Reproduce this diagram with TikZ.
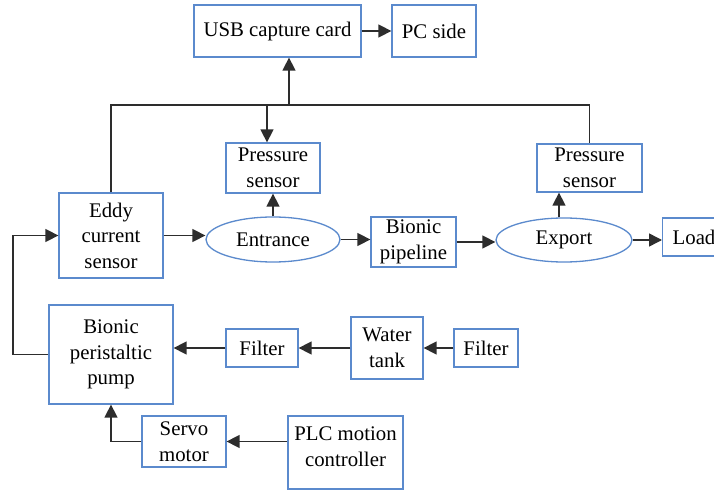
\documentclass[tikz,border=0pt]{standalone}
\usepackage{fontspec}
\setmainfont{Liberation Serif}
\newfontfamily\diagfont{Liberation Serif}
\usetikzlibrary{positioning,arrows.meta,shapes.geometric,calc}
\definecolor{boxblue}{RGB}{91,138,205}
\definecolor{linegray}{RGB}{45,45,45}
\tikzset{
  box/.style={draw=boxblue,line width=0.65pt,align=center,inner sep=0pt,font=\diagfont\fontsize{10.4}{12.8}\selectfont},
  oval/.style={ellipse,draw=boxblue,line width=0.65pt,inner sep=0pt,font=\diagfont\fontsize{10.4}{12.8}\selectfont},
  conn/.style={draw=linegray,line width=0.75pt,-{Triangle[length=6.5pt,width=6.5pt]}},
  wire/.style={draw=linegray,line width=0.75pt}
}

\begin{document}
\begin{tikzpicture}[x=0.5pt,y=-0.5pt]
    \useasboundingbox[fill=white] (0,0) rectangle (714,492);
    % top row
    \node[box,minimum width=83.5pt,minimum height=26pt] (usb) at (277.5,31) {USB capture card};
    \node[box,minimum width=42pt,minimum height=26pt] (pc) at (434,31) {PC side};
    % sensors
    \node[box,minimum width=47pt,minimum height=25pt] (psA) at (273,168) {Pressure\\sensor};
    \node[box,minimum width=52.5pt,minimum height=24pt] (psB) at (589.5,168) {Pressure\\sensor};
    % main line
    \node[box,minimum width=52pt,minimum height=42.5pt] (eddy) at (111,235.5) {Eddy\\current\\sensor};
    \node[oval,minimum width=67pt,minimum height=22.5pt] (entrance) at (273,239.5) {Entrance};
    \node[box,minimum width=42.5pt,minimum height=25pt] (pipeline) at (413.5,242) {Bionic\\pipeline};
    \node[oval,minimum width=68pt,minimum height=22pt] (export) at (564,240) {Export};
    \node[box,anchor=west,minimum height=19pt,inner xsep=5pt] (load) at (662,237) {Load\hspace{8pt}};
    % water supply
    \node[box,minimum width=62pt,minimum height=49.5pt] (pump) at (111,354.5) {Bionic\\peristaltic\\pump};
    \node[box,minimum width=36pt,minimum height=19pt] (filterA) at (262,348) {Filter};
    \node[box,minimum width=36pt,minimum height=31pt] (tank) at (387,348) {Water\\tank};
    \node[box,minimum width=32pt,minimum height=19pt] (filterB) at (486,348) {Filter};
    % drive
    \node[box,minimum width=42pt,minimum height=25.5pt] (servo) at (184,441.5) {Servo\\motor};
    \node[box,minimum width=57.5pt,minimum height=36.5pt,text depth=6pt] (plc) at (345.5,452.5) {PLC motion\\controller};

    \coordinate (bus) at (289,105);
    \coordinate (tapA) at (267,105);
    \coordinate (loop) at (13,300);

    \draw[conn] (usb) -- (pc);
    \draw[wire] (eddy.north) |- (bus) -| (psB.north);
    \draw[conn] (bus) -- (bus |- usb.south);
    \draw[conn] (tapA) -- (tapA |- psA.north);
    \draw[conn] (entrance.north) -- (psA.south);
    \draw[conn] ([xshift=-2.5pt]export.north) -- ([xshift=-2.5pt]export.north |- psB.south);
    \draw[conn] (eddy) -- (eddy -| entrance.west);
    \draw[conn] (entrance.east) -- (entrance.east -| pipeline.west);
    \draw[conn] (pipeline.east) -- (pipeline.east -| export.west);
    \draw[conn] (export.east) -- (export.east -| load.west);
    \draw[conn] (filterB.west) -- (filterB.west -| tank.east);
    \draw[conn] (tank.west) -- (tank.west -| filterA.east);
    \draw[conn] (filterA.west) -- (filterA.west -| pump.east);
    \draw[conn] (pump.west) -- (pump.west -| loop) |- (eddy.west);
    \draw[conn] (plc.west |- servo) -- (servo.east);
    \draw[conn] (servo.west) -| (pump.south);
\end{tikzpicture}
\end{document}
